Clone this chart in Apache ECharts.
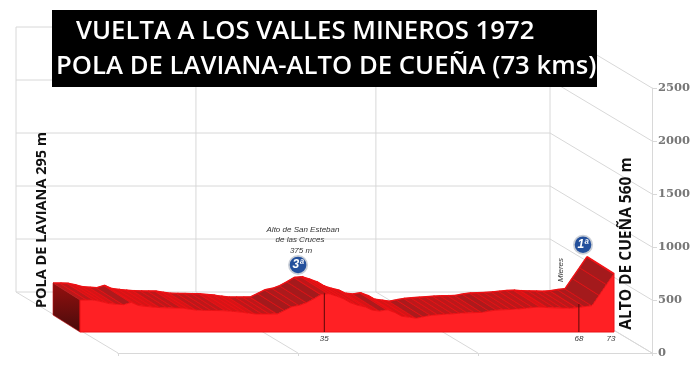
<!DOCTYPE html>
<html>
<head>
<meta charset="utf-8">
<style>
  html, body { margin: 0; padding: 0; background: #fff; }
  #main { width: 700px; height: 378px; }
</style>
<script src="https://cdn.jsdelivr.net/npm/echarts@6/dist/echarts.min.js"></script>
</head>
<body>
<div id="main"></div>
<script>
// altitude read every km off the picture
var kms = [0,1,2,3,4,5,6,7,8,9,10,11,12,13,14,15,16,17,18,19,20,21,22,23,24,25,26,27,28,29,30,31,32,33,34,35,36,
  37,38,39,40,41,42,43,44,45,46,47,48,49,50,51,52,53,54,55,56,57,58,59,60,61,62,63,64,65,66,67,68,69,70,71,72,73];
var altitudes = [302,302,300,285,268,262,258,280,250,242,235,230,228,227,226,215,206,204,203,202,200,194,188,178,170,170,170,171,
  205,239,252,278,315,355,362,340,315,275,252,236,205,198,210,185,148,140,130,145,157,163,168,172,178,181,183,185,198,207,210,213,
  218,225,232,235,230,228,226,224,230,240,249,350,450,550];

var yTicks = [0,500,1000,1500,2000,2500];
var xTicks = [0,24.6,49.2,73];

var markKm = [33.4,68.2];
var markTop = [365,264];
var kmLabels = ['35','68','73'];
var kmLabelPos = [33.4,68.2,72.6];

var climbKm = [33.5,73];
var climbAlt = [368,550];
var climbNames = ['3ª','1ª'];

var title1 = 'VUELTA A LOS VALLES MINEROS 1972';
var title2 = 'POLA DE LAVIANA-ALTO DE CUEÑA (73 kms)';
var startLabel = 'POLA DE LAVIANA 295 m';
var endLabel = 'ALTO DE CUEÑA 560 m';

// oblique 3d look: offsets from the front floor edge, in px
var WALL = [-102,-61];
var FRONT = [-38,-21];
var BACK = [-65,-38];

function pt(api, km, alt, off) {
  var p = api.coord([km, alt]);
  return [p[0] + off[0], p[1] + off[1]];
}

function gridLine(a, b) {
  return {
    type: 'line',
    shape: { x1: a[0], y1: a[1], x2: b[0], y2: b[1] },
    style: { stroke: '#d8d8d8', lineWidth: 1 }
  };
}

function renderFrame(params, api) {
  var kids = [];
  var none = [0,0];
  yTicks.forEach(function (t) {
    kids.push(gridLine(pt(api, 0, t, WALL), pt(api, 73, t, WALL)));
    kids.push(gridLine(pt(api, 73, t, WALL), pt(api, 73, t, none)));
  });
  xTicks.forEach(function (k) {
    kids.push(gridLine(pt(api, k, 0, WALL), pt(api, k, 2500, WALL)));
    kids.push(gridLine(pt(api, k, 0, WALL), pt(api, k, 0, none)));
  });
  return { type: 'group', children: kids };
}

// top of the road, one quad per km, darker when it goes up
function renderSlab(params, api) {
  var i = params.dataIndex;
  if (i >= kms.length - 1) return null;
  var a0 = altitudes[i], a1 = altitudes[i + 1];
  var slope = a1 - a0;
  var col = slope > 30 ? '#a41a1c' : slope > 8 ? '#ac1a1c' : slope >= -4 ? '#bc181a' : '#d61416';
  var b0 = pt(api, kms[i], a0, BACK), b1 = pt(api, kms[i + 1], a1, BACK);
  var f0 = pt(api, kms[i], a0, FRONT), f1 = pt(api, kms[i + 1], a1, FRONT);
  return {
    type: 'group',
    children: [
      { type: 'polygon', shape: { points: [b0, b1, f1, f0] }, style: { fill: col, stroke: col, lineWidth: 0.5 } },
      { type: 'line', shape: { x1: b1[0], y1: b1[1], x2: f1[0], y2: f1[1] }, style: { stroke: '#f41216', lineWidth: 1.8 } },
      { type: 'line', shape: { x1: b0[0], y1: b0[1], x2: b1[0], y2: b1[1] }, style: { stroke: '#f01014', lineWidth: 1.4 } }
    ]
  };
}

function renderBody(params, api) {
  var top = kms.map(function (k, i) { return pt(api, k, altitudes[i], FRONT); });
  var pts = top.concat([pt(api, 73, 0, FRONT), pt(api, 0, 0, FRONT)]);
  var capPts = [pt(api, 0, altitudes[0], BACK), pt(api, 0, altitudes[0], FRONT), pt(api, 0, 0, FRONT), pt(api, 0, 0, BACK)];
  return {
    type: 'group',
    children: [
      {
        type: 'polygon', shape: { points: capPts },
        style: {
          fill: new echarts.graphic.LinearGradient(0, 0, 0, 1, [
            { offset: 0, color: '#96100f' }, { offset: 1, color: '#480b0b' }
          ]),
          stroke: '#c01214', lineWidth: 0.6
        }
      },
      { type: 'polygon', shape: { points: pts }, style: { fill: '#ff2024', stroke: '#ea1014', lineWidth: 1 } }
    ]
  };
}

function renderMark(params, api) {
  var i = params.dataIndex;
  var a = pt(api, markKm[i], markTop[i], FRONT), b = pt(api, markKm[i], 0, FRONT);
  return { type: 'line', shape: { x1: a[0], y1: a[1], x2: b[0], y2: b[1] }, style: { stroke: '#5a0808', lineWidth: 1 } };
}

function renderKmLabel(params, api) {
  var i = params.dataIndex;
  var p = pt(api, kmLabelPos[i], 0, FRONT);
  return {
    type: 'text', x: p[0], y: p[1] + 7,
    style: { text: kmLabels[i], fill: '#333', font: 'italic 8px "Liberation Sans"', align: 'center', verticalAlign: 'middle' }
  };
}

function renderBadge(params, api) {
  var i = params.dataIndex;
  var p = pt(api, climbKm[i], climbAlt[i], BACK);
  var cx = p[0] + (i === 0 ? 0 : -4), cy = p[1] - (i === 0 ? 11 : 12);
  return {
    type: 'group',
    children: [
      { type: 'circle', shape: { cx: cx, cy: cy, r: 10 }, style: { fill: '#c9ced6' } },
      { type: 'circle', shape: { cx: cx, cy: cy, r: 8.3 }, style: { fill: '#24509c' } },
      {
        type: 'text', x: cx, y: cy,
        style: { text: climbNames[i], fill: '#fff', font: 'italic bold 12px "Liberation Sans"', align: 'center', verticalAlign: 'middle' }
      }
    ]
  };
}

var myChart = echarts.init(document.getElementById('main'), null, { renderer: 'canvas' });

var option = {
  animation: false,
  grid: { left: 118, top: 88, width: 534, height: 265 },
  xAxis: {
    type: 'value', min: 0, max: 73,
    splitLine: { show: false },
    axisLine: { onZero: false, lineStyle: { color: '#d8d8d8' } },
    axisTick: { customValues: xTicks, length: 3, lineStyle: { color: '#d8d8d8' } },
    axisLabel: { show: false }
  },
  yAxis: {
    type: 'value', position: 'right', min: 0, max: 2500, interval: 500,
    splitLine: { show: false },
    axisLine: { show: true, onZero: false, lineStyle: { color: '#d8d8d8' } },
    axisTick: { show: true, length: 5, lineStyle: { color: '#d8d8d8' } },
    axisLabel: {
      color: '#777', fontFamily: 'DejaVu Serif', fontWeight: 'bold', fontSize: 11.5, margin: 6,
      formatter: function (v) { return String(v); }
    }
  },
  series: [
    { type: 'custom', z: 1, renderItem: renderFrame, data: [0], silent: true },
    { type: 'custom', z: 2, renderItem: renderSlab, data: kms, silent: true },
    { type: 'custom', z: 3, renderItem: renderBody, data: [0], silent: true },
    { type: 'custom', z: 4, renderItem: renderMark, data: markKm, silent: true },
    { type: 'custom', z: 4, renderItem: renderKmLabel, data: kmLabels, silent: true },
    { type: 'custom', z: 5, renderItem: renderBadge, data: climbKm, silent: true }
  ],
  graphic: [
    { type: 'rect', z: 10, shape: { x: 52, y: 10, width: 545, height: 77 }, style: { fill: '#000' } },
    { type: 'text', z: 11, x: 76, y: 32, style: { text: title1, fill: '#fff', font: '600 25.7px "Open Sans"', verticalAlign: 'middle' } },
    { type: 'text', z: 11, x: 56, y: 67, style: { text: title2, fill: '#fff', font: '600 25.7px "Open Sans"', verticalAlign: 'middle' } },
    { type: 'text', z: 11, x: 42, y: 220, rotation: Math.PI / 2, style: { text: startLabel, fill: '#111', font: 'bold 14.5px "Open Sans"', align: 'center', verticalAlign: 'middle' } },
    { type: 'text', z: 11, x: 627, y: 243.5, rotation: Math.PI / 2, style: { text: endLabel, fill: '#111', font: 'bold 15.5px "Open Sans"', align: 'center', verticalAlign: 'middle' } },
    { type: 'text', z: 11, x: 561, y: 270, rotation: Math.PI / 2, style: { text: 'Mieres', fill: '#333', font: 'italic 8px "Liberation Sans"', align: 'center', verticalAlign: 'middle' } },
    { type: 'text', z: 11, x: 303, y: 230, style: { text: 'Alto de San Esteban', fill: '#333', font: 'italic 8px "Liberation Sans"', align: 'center', verticalAlign: 'middle' } },
    { type: 'text', z: 11, x: 300, y: 240, style: { text: 'de las Cruces', fill: '#333', font: 'italic 8px "Liberation Sans"', align: 'center', verticalAlign: 'middle' } },
    { type: 'text', z: 11, x: 301, y: 251, style: { text: '375 m', fill: '#333', font: 'italic 8px "Liberation Sans"', align: 'center', verticalAlign: 'middle' } }
  ]
};
myChart.setOption(option);
</script>
</body>
</html>
